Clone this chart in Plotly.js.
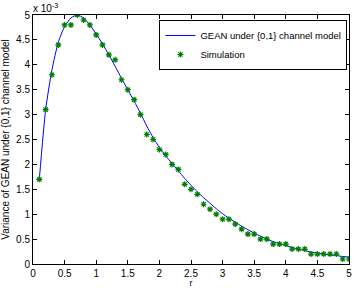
<!DOCTYPE html>
<html><head><meta charset="utf-8">
<script src="https://cdn.plot.ly/plotly-3.0.1.min.js"></script>
<style>html,body{margin:0;padding:0;background:#fff;}#chart{width:353px;height:288px;}</style>
</head><body><div id="chart"></div>
<script>
// Analytical curve (units of 1e-3)
const curveR = [0.1,0.2,0.3,0.4,0.5,0.6,0.7,0.8,0.9,1.0,1.1,1.2,1.3,1.4,1.5,1.6,1.7,1.8,1.9,2.0,2.1,2.2,2.3,2.4,2.5,2.6,2.7,2.8,2.9,3.0,3.1,3.2,3.3,3.4,3.5,3.6,3.7,3.8,3.9,4.0,4.1,4.2,4.3,4.4,4.5,4.6,4.7,4.8,4.9,5.0];
const curveV = [1.70,3.10,3.90,4.45,4.77,4.94,5.00,4.94,4.80,4.62,4.42,4.20,3.97,3.73,3.50,3.27,3.03,2.77,2.54,2.34,2.17,2.02,1.87,1.72,1.58,1.45,1.33,1.22,1.11,1.01,0.92,0.84,0.76,0.69,0.62,0.56,0.50,0.45,0.41,0.37,0.33,0.30,0.27,0.24,0.22,0.20,0.18,0.17,0.15,0.14];
// Simulation points (units of 1e-3)
const simR = [0.1,0.2,0.3,0.4,0.5,0.6,0.7,0.8,0.9,1.0,1.1,1.2,1.3,1.4,1.5,1.6,1.7,1.8,1.9,2.0,2.1,2.2,2.3,2.4,2.5,2.6,2.7,2.8,2.9,3.0,3.1,3.2,3.3,3.4,3.5,3.6,3.7,3.8,3.9,4.0,4.1,4.2,4.3,4.4,4.5,4.6,4.7,4.8,4.9,5.0];
const simV = [1.7,3.1,3.8,4.4,4.8,4.8,5.0,4.9,4.8,4.6,4.4,4.2,4.1,3.7,3.5,3.3,3.0,2.6,2.5,2.3,2.2,2.0,1.9,1.6,1.5,1.4,1.2,1.1,1.0,0.9,0.9,0.8,0.7,0.6,0.6,0.5,0.5,0.4,0.4,0.4,0.3,0.3,0.3,0.2,0.2,0.2,0.2,0.2,0.1,0.1];
const xTicks = [0,0.5,1,1.5,2,2.5,3,3.5,4,4.5,5];
const yTicks = [0,0.5,1,1.5,2,2.5,3,3.5,4,4.5,5];
const seriesNames = ['GEAN under {0,1} channel model','Simulation'];

const F = 'Liberation Sans, Arial, sans-serif';
const traces = [
  {x: curveR, y: curveV, type:'scatter', mode:'lines', name: seriesNames[0],
   line:{color:'#0000ff', width:1, shape:'spline', smoothing:0.6}},
  {x: simR, y: simV, type:'scatter', mode:'markers', name: seriesNames[1],
   marker:{symbol:'asterisk-open', size:5, color:'#008000', line:{color:'#008000', width:1.2}}}
];
const axBase = {showgrid:false, zeroline:false, showline:true, linecolor:'#000', linewidth:1,
  mirror:'ticks', ticks:'inside', ticklen:4, tickcolor:'#000', tickfont:{family:F, size:10, color:'#000'}};
const layout = {
  width:353, height:288, margin:{l:33, r:4, t:15, b:24},
  paper_bgcolor:'#fff', plot_bgcolor:'#fff', font:{family:F, size:10, color:'#000'},
  xaxis: Object.assign({}, axBase, {range:[0,5], tickvals:xTicks, ticktext:xTicks.map(String),
    title:{text:'r', font:{family:F, size:9}, standoff:3}}),
  yaxis: Object.assign({}, axBase, {range:[0,5], tickvals:yTicks, ticktext:yTicks.map(String),
    title:{text:'Variance of GEAN under {0,1} channel model', font:{family:F, size:10}, standoff:4}}),
  legend:{x:0.995, y:0.98, xanchor:'right', yanchor:'top', bgcolor:'#fff', bordercolor:'#000', borderwidth:1,
    font:{family:F, size:9.5}, tracegroupgap:0, itemwidth:30},
  showlegend:true,
  annotations:[{xref:'paper', yref:'paper', x:0, y:1, xanchor:'left', yanchor:'bottom', showarrow:false,
    text:'x 10<sup>-3</sup>', font:{family:F, size:10}, yshift:-1, xshift:-2}]
};
Plotly.newPlot('chart', traces, layout, {staticPlot:true, displayModeBar:false});
</script></body></html>
